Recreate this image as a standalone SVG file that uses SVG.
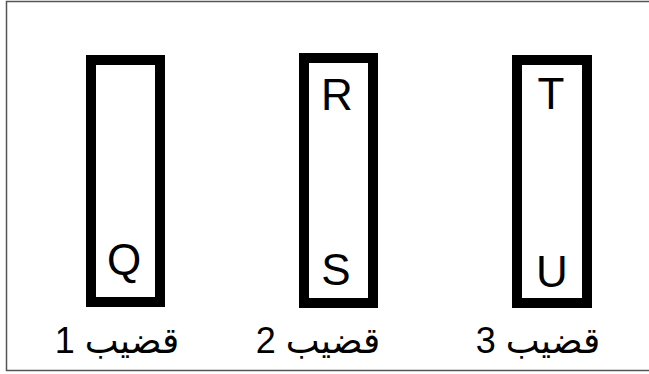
<svg xmlns="http://www.w3.org/2000/svg" width="649" height="374" viewBox="0 0 649 374">
<style>
.rod{fill:#fff;stroke:#000;stroke-width:10}
.let{font-family:"Liberation Sans",Arial,sans-serif;font-size:44px;fill:#000;text-anchor:middle}
.lbl{font-family:"Liberation Sans","DejaVu Sans",sans-serif;font-size:36px;fill:#000;text-anchor:middle}
</style>
<rect width="649" height="374" fill="#fff"/>
<path d="M649,1.5 H6.5 V370.5 H649" fill="none" stroke="#555" stroke-width="1.5"/>
<g id="rod1">
<rect class="rod" x="91" y="60" width="69" height="242"/>
<text class="let" x="124" y="275">Q</text>
<text class="lbl" x="117" y="353" direction="rtl">قضيب 1</text>
</g>
<g id="rod2">
<rect class="rod" x="304" y="58" width="69" height="245"/>
<text class="let" x="337" y="110">R</text>
<text class="let" x="336" y="285">S</text>
<text class="lbl" x="318" y="353" direction="rtl">قضيب 2</text>
</g>
<g id="rod3">
<rect class="rod" x="517" y="60" width="70" height="243"/>
<text class="let" x="551" y="109">T</text>
<text class="let" x="552" y="287">U</text>
<text class="lbl" x="538" y="353" direction="rtl">قضيب 3</text>
</g>
<g id="connectors"/>
</svg>
